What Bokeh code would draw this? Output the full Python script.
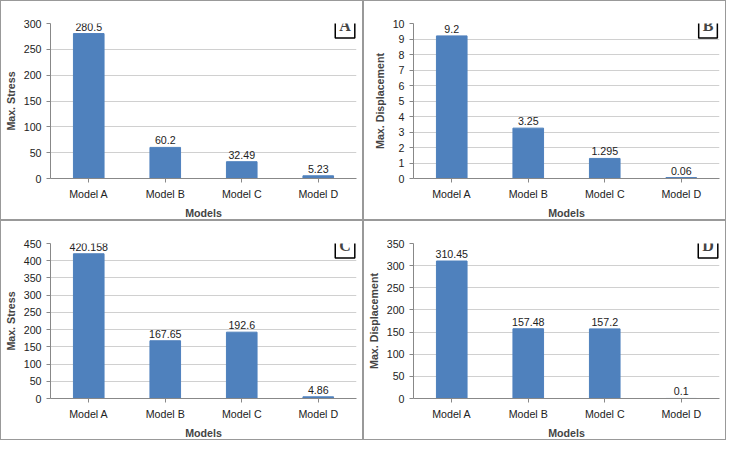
from bokeh.plotting import figure
from bokeh.layouts import gridplot
from bokeh.models import ColumnDataSource, Label, FixedTicker, Range1d
from bokeh.embed import file_html
from bokeh.resources import INLINE

models = ["Model A", "Model B", "Model C", "Model D"]
stress1 = [280.5, 60.2, 32.49, 5.23]
disp1 = [9.2, 3.25, 1.295, 0.06]
stress2 = [420.158, 167.65, 192.6, 4.86]
disp2 = [310.45, 157.48, 157.2, 0.1]
labels1 = ["280.5", "60.2", "32.49", "5.23"]
labels2 = ["9.2", "3.25", "1.295", "0.06"]
labels3 = ["420.158", "167.65", "192.6", "4.86"]
labels4 = ["310.45", "157.48", "157.2", "0.1"]

panels = [
    ("A", "Max. Stress", stress1, labels1, 300, 50),
    ("B", "Max. Displacement", disp1, labels2, 10, 1),
    ("C", "Max. Stress", stress2, labels3, 450, 50),
    ("D", "Max. Displacement", disp2, labels4, 350, 50),
]

figs = []
for letter, ylab, vals, labs, ymax, step in panels:
    src = ColumnDataSource(dict(x=models, top=vals, lab=labs))
    p = figure(x_range=models, y_range=Range1d(0, ymax), width=363, height=220,
               output_backend="svg", toolbar_location=None,
               min_border_top=22, min_border_right=8, min_border_left=10)
    p.vbar(x="x", top="top", width=0.4, source=src, color="#4F81BD")
    p.text(x="x", y="top", text="lab", source=src, text_align="center",
           text_baseline="bottom", y_offset=-3, text_font_size="8pt",
           text_color="#222222")
    p.yaxis.ticker = FixedTicker(ticks=list(range(0, ymax + 1, step)))
    p.xaxis.axis_label = "Models"
    p.yaxis.axis_label = ylab
    for ax in (p.xaxis, p.yaxis):
        ax.axis_label_text_font_style = "bold"
        ax.axis_label_text_font_size = "8pt"
        ax.axis_label_text_font = "Liberation Sans"
        ax.major_label_text_font_size = "8pt"
        ax.major_label_text_color = "#222222"
        ax.axis_line_color = "#888888"
        ax.major_tick_line_color = "#888888"
        ax.minor_tick_line_color = None
        ax.major_tick_in = 0
        ax.major_tick_out = 4
        ax.axis_label_standoff = 4
    p.xgrid.grid_line_color = None
    p.ygrid.grid_line_color = "#d0d0d0"
    p.outline_line_color = None
    p.add_layout(Label(x=3.85, y=ymax, text=letter, text_font="Liberation Serif",
                       text_font_style="bold", text_font_size="12pt",
                       text_align="center", text_baseline="middle",
                       border_line_color="black", border_line_width=1.5,
                       background_fill_color="white", padding=4,
                       y_offset=-2))
    p.styles = {"border": "1px solid #999999"}
    figs.append(p)

grid = gridplot([[figs[0], figs[1]], [figs[2], figs[3]]], toolbar_location=None)
open("out.html", "w").write(file_html(grid, INLINE))
